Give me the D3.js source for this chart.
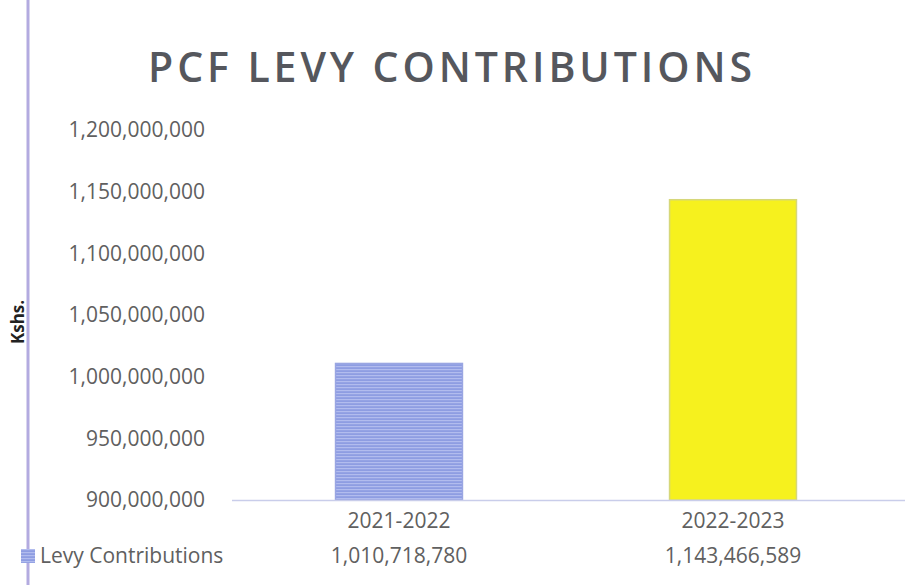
<!DOCTYPE html>
<html>
<head>
<meta charset="utf-8">
<script src="https://cdn.jsdelivr.net/npm/d3@7.9.0/dist/d3.min.js"></script>
<style>
  body { margin: 0; background: #fff; }
  text { font-family: "Open Sans", "Noto Sans", sans-serif; }
</style>
</head>
<body>
<div id="chart"></div>
<script>
// data
const categories = ['2021-2022', '2022-2023'];
const values = [1010718780, 1143466589];
const seriesName = 'Levy Contributions';
const yTicks = [900000000, 950000000, 1000000000, 1050000000, 1100000000, 1150000000, 1200000000];
const barColors = ['url(#stripes)', '#f6f11e'];

const width = 921;
const height = 585;

const svg = d3.select('#chart')
  .append('svg')
  .attr('width', width)
  .attr('height', height);

// stripes for the first bar
const defs = svg.append('defs');
const pat = defs.append('pattern')
  .attr('id', 'stripes')
  .attr('patternUnits', 'userSpaceOnUse')
  .attr('width', 8)
  .attr('height', 3);
pat.append('rect').attr('width', 8).attr('height', 3).attr('fill', '#8e9de2');
pat.append('rect').attr('width', 8).attr('height', 1.2).attr('fill', '#b2bcee');

const area = { left: 232, right: 905, top: 130, bottom: 500 };

const x = d3.scaleBand()
  .domain(categories)
  .range([area.left, area.right - 5])
  .paddingInner(0.62)
  .paddingOuter(0.31);

const y = d3.scaleLinear()
  .domain([900000000, 1200000000])
  .range([area.bottom, area.top]);

// left frame line
svg.append('line')
  .attr('x1', 28).attr('x2', 28)
  .attr('y1', 0).attr('y2', height)
  .attr('stroke', '#b3abe0')
  .attr('stroke-width', 3);

// title
svg.append('text')
  .attr('x', 148)
  .attr('y', 82)
  .attr('textLength', 604)
  .attr('lengthAdjust', 'spacing')
  .attr('font-size', 41)
  .attr('font-weight', 600)
  .attr('fill', '#55575d')
  .text('PCF LEVY CONTRIBUTIONS');

// y axis title
svg.append('text')
  .attr('transform', 'translate(24,322) rotate(-90)')
  .attr('text-anchor', 'middle')
  .attr('font-size', 17)
  .attr('font-weight', 'bold')
  .attr('fill', '#222')
  .text('Kshs.');

// y axis labels
const yAxis = svg.append('g')
  .attr('transform', `translate(${205},0)`)
  .call(d3.axisLeft(y).tickValues(yTicks).tickSize(0).tickPadding(0).tickFormat(d3.format(',')));
yAxis.select('.domain').remove();
yAxis.selectAll('text')
  .attr('font-size', 21)
  .attr('fill', '#606060')
  .style('font-family', '"Open Sans", sans-serif');

// bars
svg.append('g')
  .selectAll('rect')
  .data(values)
  .join('rect')
  .attr('x', (d, i) => x(categories[i]))
  .attr('y', d => y(d))
  .attr('width', x.bandwidth())
  .attr('height', d => y(900000000) - y(d))
  .attr('fill', (d, i) => barColors[i])
  .attr('stroke', (d, i) => i === 0 ? '#9aa6e2' : '#d6d77a')
  .attr('stroke-width', 1.5);

// baseline
svg.append('line')
  .attr('x1', area.left).attr('x2', area.right)
  .attr('y1', y(900000000) + 0.5).attr('y2', y(900000000) + 0.5)
  .attr('stroke', '#c9cdea')
  .attr('stroke-width', 1.5);

// category labels
const xAxis = svg.append('g')
  .attr('transform', `translate(0,${area.bottom})`)
  .call(d3.axisBottom(x).tickSize(0).tickPadding(28));
xAxis.select('.domain').remove();
xAxis.selectAll('text')
  .attr('font-size', 21)
  .attr('fill', '#606060')
  .attr('dy', 0)
  .style('font-family', '"Open Sans", sans-serif');

// data table row
svg.append('g')
  .selectAll('text')
  .data(values)
  .join('text')
  .attr('x', (d, i) => x(categories[i]) + x.bandwidth() / 2)
  .attr('y', 563)
  .attr('text-anchor', 'middle')
  .attr('font-size', 21)
  .attr('fill', '#606060')
  .text(d => d3.format(',')(d));

svg.append('rect')
  .attr('x', 21).attr('y', 549)
  .attr('width', 14).attr('height', 14)
  .attr('fill', 'url(#stripes)');

svg.append('text')
  .attr('x', 40)
  .attr('y', 563)
  .attr('font-size', 21)
  .attr('fill', '#606060')
  .text(seriesName);
</script>
</body>
</html>
